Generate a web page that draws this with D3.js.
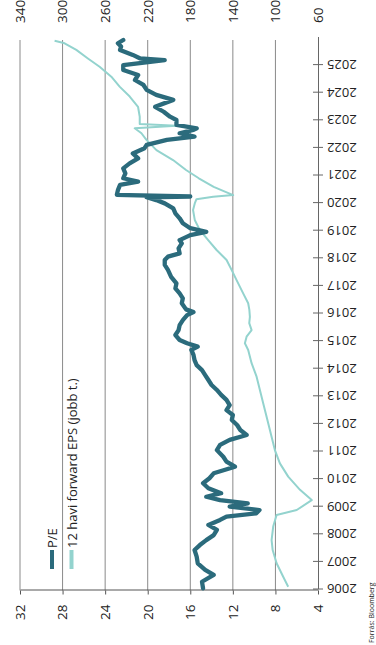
<!DOCTYPE html>
<html>
<head>
<meta charset="utf-8">
<script src="https://cdn.jsdelivr.net/npm/d3@7"></script>
<style>
  body { margin: 0; background: #fff; }
  svg { display: block; font-family: "Open Sans", sans-serif; }
</style>
</head>
<body>
<svg id="chart"></svg>
<script>
// [decimal year, forward P/E]
const peData = [
  [2006.04, 14.8], [2006.28, 14.9], [2006.53, 13.8], [2006.71, 14.6], [2006.95, 15.3],
  [2007.19, 15.4], [2007.43, 15.6], [2007.61, 15.1], [2007.79, 14.5], [2007.97, 13.8],
  [2008.16, 13.5], [2008.34, 14.3], [2008.52, 13.2], [2008.64, 12.6], [2008.76, 9.8],
  [2008.88, 9.5], [2009.00, 12.3], [2009.12, 10.6], [2009.24, 13.2], [2009.36, 14.5],
  [2009.49, 13.1], [2009.67, 14.3], [2009.85, 14.8], [2010.03, 14.2], [2010.21, 13.8],
  [2010.45, 11.8], [2010.63, 12.6], [2010.81, 12.9], [2011.05, 13.5], [2011.24, 13.2],
  [2011.42, 12.3], [2011.60, 10.7], [2011.78, 11.3], [2011.96, 11.6], [2012.14, 12.1],
  [2012.32, 12.0], [2012.50, 12.6], [2012.68, 12.3], [2012.87, 12.6], [2013.05, 13.1],
  [2013.23, 13.5], [2013.41, 14.0], [2013.59, 14.3], [2013.77, 14.6], [2013.95, 14.9],
  [2014.13, 15.4], [2014.31, 15.6], [2014.50, 15.7], [2014.68, 15.9], [2014.80, 15.3],
  [2014.92, 16.3], [2015.04, 17.0], [2015.22, 17.4], [2015.40, 17.1], [2015.58, 17.0],
  [2015.76, 16.7], [2015.94, 16.3], [2016.05, 15.7], [2016.15, 16.4], [2016.37, 16.8],
  [2016.55, 16.7], [2016.73, 17.0], [2016.91, 17.4], [2017.09, 17.3], [2017.33, 17.8],
  [2017.58, 18.1], [2017.76, 18.4], [2017.94, 18.4], [2018.06, 18.1], [2018.18, 17.0],
  [2018.36, 17.1], [2018.54, 16.8], [2018.66, 17.0], [2018.84, 16.0], [2018.96, 14.5],
  [2019.09, 16.0], [2019.27, 16.7], [2019.45, 17.0], [2019.63, 17.4], [2019.81, 17.6],
  [2019.99, 18.4], [2020.11, 19.2], [2020.21, 20.1], [2020.24, 16.0], [2020.30, 22.9],
  [2020.47, 22.8], [2020.66, 22.6], [2020.78, 20.9], [2020.90, 22.3], [2021.08, 22.1],
  [2021.26, 22.3], [2021.44, 21.7], [2021.62, 20.9], [2021.80, 21.4], [2021.99, 20.3],
  [2022.11, 20.1], [2022.29, 18.2], [2022.41, 15.6], [2022.53, 17.0], [2022.65, 15.7],
  [2022.71, 15.4], [2022.83, 17.3], [2023.01, 17.3], [2023.13, 17.9], [2023.31, 18.5],
  [2023.49, 19.3], [2023.74, 17.6], [2023.92, 19.2], [2024.10, 20.1], [2024.28, 20.4],
  [2024.46, 21.2], [2024.64, 20.9], [2024.82, 22.3], [2025.00, 22.3], [2025.18, 18.4],
  [2025.24, 20.7], [2025.37, 21.4], [2025.55, 22.6], [2025.67, 22.5], [2025.79, 22.8],
  [2025.91, 22.3]
];

// [decimal year, 12m forward EPS] (right axis)
const epsData = [
  [2006.10, 88.0], [2006.46, 92.7], [2006.95, 98.9], [2007.43, 102.6], [2007.79, 103.6],
  [2008.28, 102.1], [2008.70, 98.9], [2008.88, 80.0], [2009.24, 65.9], [2009.61, 76.9],
  [2010.09, 88.0], [2010.57, 95.8], [2011.05, 100.5], [2011.30, 102.1], [2011.78, 105.2],
  [2012.26, 108.3], [2012.75, 111.5], [2013.23, 114.6], [2013.71, 117.7], [2014.20, 122.4],
  [2014.68, 125.6], [2014.92, 128.7], [2015.16, 127.1], [2015.40, 122.4], [2015.65, 124.6],
  [2015.88, 124.0], [2016.13, 124.5], [2016.37, 125.6], [2016.73, 130.3], [2017.21, 136.5],
  [2017.58, 141.2], [2017.94, 145.9], [2018.30, 155.3], [2018.66, 163.2], [2019.03, 171.1],
  [2019.39, 175.8], [2019.75, 177.4], [2019.99, 175.8], [2020.14, 174.2], [2020.23, 158.5],
  [2020.29, 139.7], [2020.59, 158.0], [2020.90, 172.0], [2021.20, 184.0], [2021.56, 196.2],
  [2021.92, 211.8], [2022.29, 221.2], [2022.53, 225.9], [2022.71, 232.2], [2022.80, 193.0],
  [2022.87, 227.5], [2023.13, 227.5], [2023.49, 229.1], [2023.86, 236.9], [2024.22, 246.4],
  [2024.58, 254.2], [2024.94, 265.2], [2025.24, 276.2], [2025.55, 287.1], [2025.79, 298.1],
  [2025.88, 307.5]
];

const yearTicks = d3.range(2006, 2026);
const peTicks = [4, 8, 12, 16, 20, 24, 28, 32];
const epsTicks = [60, 100, 140, 180, 220, 260, 300, 340];
const legendLabels = ["P/E", "12 havi forward EPS (jobb t.)"];
const sourceText = "Forrás: Bloomberg";

const width = 376;
const height = 645;
const peColor = "#2b6b7c";
const epsColor = "#93d3ce";

const svg = d3.select("#chart").attr("width", width).attr("height", height);
svg.append("rect").attr("width", width).attr("height", height).attr("fill", "#fff");

// the chart is laid out landscape (645 x 376) and turned 90° to the left
const g = svg.append("g").attr("transform", `translate(0,${height}) rotate(-90)`);

const x = d3.scaleLinear().domain([2006, 2026]).range([55.5, 607.5]);
const yPE = d3.scaleLinear().domain([4, 32]).range([318, 20]);
const yEPS = d3.scaleLinear().domain([60, 340]).range([318, 20]);

// gridlines
g.append("g")
  .selectAll("line")
  .data(peTicks.slice(1))
  .join("line")
  .attr("x1", x(2006) - 1)
  .attr("x2", 605)
  .attr("y1", (d) => yPE(d))
  .attr("y2", (d) => yPE(d))
  .attr("stroke", "#8a8a8a")
  .attr("stroke-width", 1);

// year axis
const xAxis = g.append("g")
  .attr("transform", `translate(0,${yPE(4)})`)
  .call(d3.axisBottom(x).tickValues(yearTicks).tickFormat(d3.format("d")).tickSize(5).tickSizeOuter(0));
xAxis.attr("font-family", null).attr("font-size", 13);
xAxis.select(".domain").attr("stroke", "#666");
xAxis.selectAll(".tick line").attr("y1", -5).attr("y2", 5).attr("stroke", "#666");
xAxis.selectAll(".tick text")
  .attr("transform", "rotate(-90)")
  .attr("x", -9)
  .attr("y", 0)
  .attr("dy", "0.35em")
  .attr("fill", "#222")
  .style("text-anchor", "end");

// P/E axis (left)
const peAxis = g.append("g")
  .attr("transform", "translate(54.5,0)")
  .call(d3.axisLeft(yPE).tickValues(peTicks).tickSize(4).tickPadding(10).tickSizeOuter(0));
peAxis.attr("font-family", null).attr("font-size", 13.5);
peAxis.select(".domain").attr("stroke", "#555");
peAxis.selectAll(".tick line").attr("stroke", "#555");
peAxis.selectAll(".tick text").attr("fill", "#222");

// EPS axis (right), labels only
const epsAxis = g.append("g")
  .attr("transform", "translate(605,0)")
  .call(d3.axisRight(yEPS).tickValues(epsTicks).tickSize(0).tickPadding(17));
epsAxis.attr("font-family", null).attr("font-size", 13.5);
epsAxis.select(".domain").remove();
epsAxis.selectAll(".tick text").attr("fill", "#222");

// lines
g.append("path")
  .datum(epsData)
  .attr("fill", "none")
  .attr("stroke", epsColor)
  .attr("stroke-width", 2)
  .attr("stroke-linejoin", "round")
  .attr("d", d3.line().x((d) => x(d[0])).y((d) => yEPS(d[1])));

g.append("path")
  .datum(peData)
  .attr("fill", "none")
  .attr("stroke", peColor)
  .attr("stroke-width", 4.3)
  .attr("stroke-linejoin", "round")
  .attr("stroke-linecap", "round")
  .attr("d", d3.line().x((d) => x(d[0])).y((d) => yPE(d[1])));

// legend
const legend = g.append("g").attr("font-size", 13).attr("fill", "#222");
const legendColors = [peColor, epsColor];
const legendRows = [52, 71.5];
legendLabels.forEach((label, i) => {
  legend.append("line")
    .attr("x1", 76).attr("x2", 95)
    .attr("y1", legendRows[i]).attr("y2", legendRows[i])
    .attr("stroke", legendColors[i])
    .attr("stroke-width", 4);
  legend.append("text")
    .attr("x", 97)
    .attr("y", legendRows[i] + 5)
    .text(label);
});

// source
g.append("text")
  .attr("x", 2)
  .attr("y", 374)
  .attr("font-size", 7)
  .attr("fill", "#222")
  .text(sourceText);
</script>
</body>
</html>
